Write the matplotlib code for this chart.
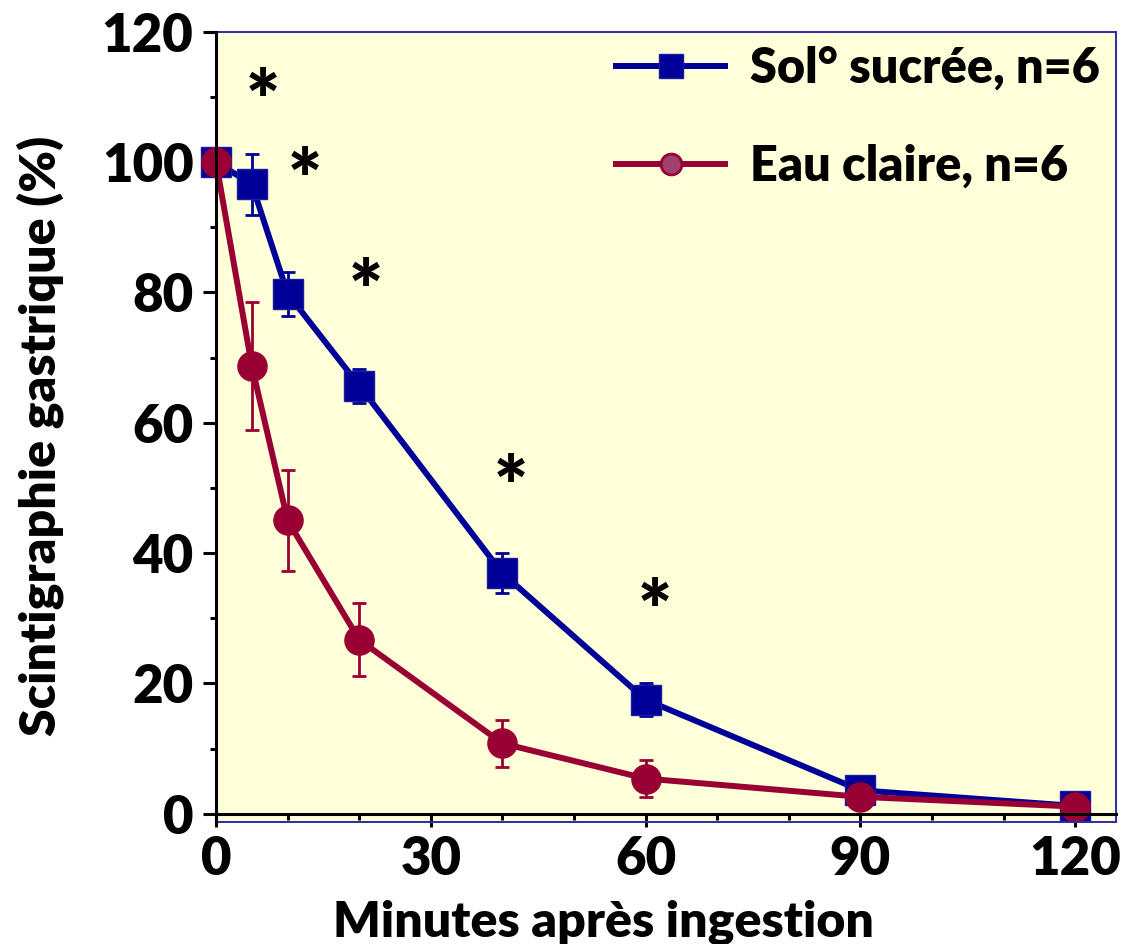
import matplotlib
matplotlib.use('Agg')
import matplotlib.pyplot as plt
from matplotlib.patches import Rectangle
from matplotlib.lines import Line2D
from matplotlib.ticker import MultipleLocator

# ---- data ----
minutes = [0, 5, 10, 20, 40, 60, 90, 120]
sucree = [100, 96.6, 79.8, 65.7, 36.9, 17.5, 3.6, 1.2]
sucree_se = [0, 4.7, 3.4, 2.6, 3.1, 2.5, 0, 0]
eau = [100, 68.7, 45.0, 26.7, 10.8, 5.4, 2.6, 1.1]
eau_se = [0, 9.8, 7.8, 5.6, 3.6, 2.9, 0, 0]
star_x = [6.6, 12.4, 20.9, 41.2, 61.3]
star_y = [112.2, 100.0, 83.1, 53.0, 34.0]
x_ticks = [0, 30, 60, 90, 120]
y_ticks = [0, 20, 40, 60, 80, 100, 120]
series_labels = ['Sol° sucrée, n=6', 'Eau claire, n=6']
x_label = 'Minutes après ingestion'
y_label = 'Scintigraphie gastrique (%)'

BLUE = '#000099'
RED = '#990033'
BG = '#FFFFD9'
FONT = 'Lato'
W = 'heavy'

plt.rcParams['font.family'] = [FONT, 'DejaVu Sans']
plt.rcParams['font.weight'] = W

fig = plt.figure(figsize=(11.27, 9.44), dpi=100)
ax = fig.add_axes([0.1917, 0.1292, 0.7985, 0.8372])
ax.set_xlim(0, 125.7)
ax.set_ylim(-1.27, 120)
ax.set_facecolor(BG)

for s in ['top', 'right']:
    ax.spines[s].set_visible(False)
ax.spines['left'].set_color('black')
ax.spines['left'].set_linewidth(2.2)
ax.spines['bottom'].set_color('black')
ax.spines['bottom'].set_linewidth(2.2)
ax.spines['bottom'].set_position(('data', 0))
ax.spines['left'].set_zorder(6)
ax.spines['bottom'].set_zorder(6)

ax.add_patch(Rectangle((0, 0), 1, 1, transform=ax.transAxes, fill=False,
                       edgecolor='#2B2BA8', lw=1.4, zorder=5, clip_on=False))

ax.set_xticks(x_ticks)
ax.set_yticks(y_ticks)
ax.xaxis.set_minor_locator(MultipleLocator(10))
ax.yaxis.set_minor_locator(MultipleLocator(10))
ax.tick_params(which='major', length=9.3, width=2.2, direction='out', labelsize=38)
ax.tick_params(axis='y', which='major', pad=7)
ax.tick_params(axis='x', which='major', pad=6)
ax.tick_params(which='minor', length=4.5, width=2.2, direction='out')
for lab in ax.get_xticklabels() + ax.get_yticklabels():
    lab.set_fontweight(W)

# error bars
ax.errorbar(minutes, sucree, yerr=sucree_se, fmt='none', ecolor=BLUE,
            elinewidth=2, capsize=5, capthick=2, zorder=2)
ax.errorbar(minutes, eau, yerr=eau_se, fmt='none', ecolor=RED,
            elinewidth=2, capsize=5, capthick=2, zorder=2)
# lines
ax.plot(minutes, sucree, color=BLUE, lw=4.3, marker='s', markersize=21,
        mfc=BLUE, mec='#1a1aa0', mew=1, zorder=3, clip_on=False)
ax.plot(minutes, eau, color=RED, lw=4.3, marker='o', markersize=21,
        mfc=RED, mec=RED, mew=1, zorder=4, clip_on=False)

for sx, sy in zip(star_x, star_y):
    ax.annotate('*', (sx, sy), xytext=(0, -16.5), textcoords='offset points',
                ha='center', va='center', fontsize=58,
                fontweight=W, color='black', zorder=7)

ax.set_xlabel(x_label, fontsize=36, fontweight=W, labelpad=11)
ax.set_ylabel(y_label, fontsize=36, fontweight=W, labelpad=27)
ax.xaxis.label.set_x(0.431)
ax.yaxis.label.set_y(0.488)

handles = [
    Line2D([], [], color=BLUE, lw=4.3, marker='s', markersize=17, mfc=BLUE, mec='#1a1aa0'),
    Line2D([], [], color=RED, lw=4.3, marker='o', markersize=15, mfc='#A0406E', mec=RED, mew=2),
]
fs = 35
fspx = fs * 100 / 72
ax.legend(handles, series_labels, loc='upper left',
          bbox_to_anchor=(616 / 1127, 1 - 46 / 944), bbox_transform=fig.transFigure,
          frameon=False, prop={'weight': W, 'size': fs},
          handlelength=109 / fspx, handletextpad=25 / fspx, labelspacing=1.09,
          borderpad=0, borderaxespad=0)

fig.savefig('out.png', dpi=100)
